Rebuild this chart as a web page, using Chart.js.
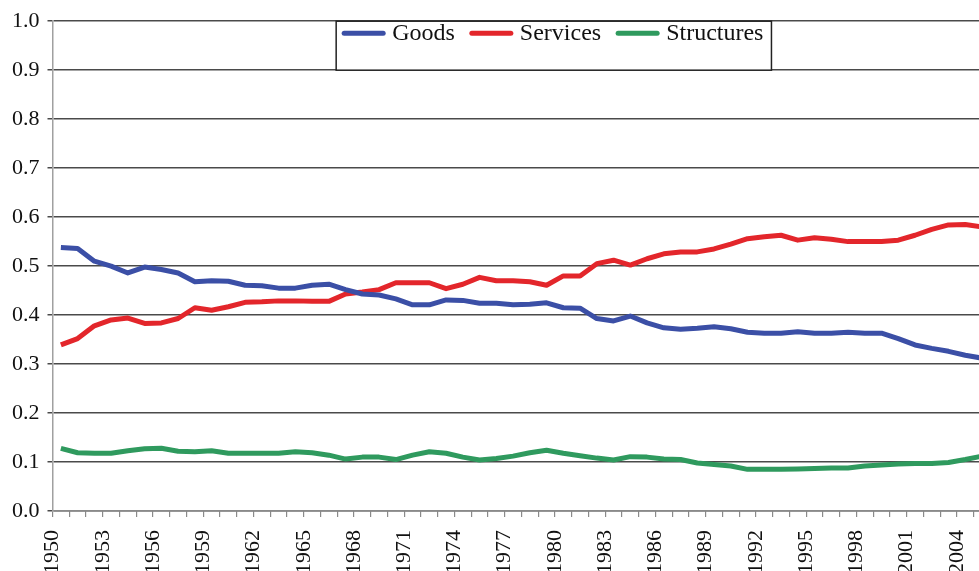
<!DOCTYPE html>
<html>
<head>
<meta charset="utf-8">
<script src="https://cdn.jsdelivr.net/npm/chart.js@4.4.0/dist/chart.umd.min.js"></script>
<style>
  html, body { margin: 0; padding: 0; background: #fff; overflow: hidden; }
  /* a bit taller than the window so the year labels run off the bottom edge */
  #wrap { width: 979px; height: 587px; position: relative; }
</style>
</head>
<body>
<div id="wrap"><canvas id="share_chart"></canvas></div>
<script>
const years = [
  1950, 1951, 1952, 1953, 1954, 1955, 1956, 1957, 1958, 1959,
  1960, 1961, 1962, 1963, 1964, 1965, 1966, 1967, 1968, 1969,
  1970, 1971, 1972, 1973, 1974, 1975, 1976, 1977, 1978, 1979,
  1980, 1981, 1982, 1983, 1984, 1985, 1986, 1987, 1988, 1989,
  1990, 1991, 1992, 1993, 1994, 1995, 1996, 1997, 1998, 1999,
  2000, 2001, 2002, 2003, 2004, 2005,
];

const goods = [
  0.538, 0.536, 0.510, 0.500, 0.486, 0.498, 0.493, 0.486, 0.468, 0.470,
  0.469, 0.461, 0.460, 0.455, 0.455, 0.461, 0.463, 0.452, 0.443, 0.441,
  0.433, 0.421, 0.421, 0.431, 0.430, 0.424, 0.424, 0.421, 0.422, 0.425,
  0.415, 0.414, 0.393, 0.388, 0.398, 0.384, 0.374, 0.371, 0.373, 0.376,
  0.372, 0.365, 0.363, 0.363, 0.366, 0.363, 0.363, 0.365, 0.363, 0.363,
  0.352, 0.339, 0.332, 0.326, 0.318, 0.312,
];

const services = [
  0.339, 0.352, 0.378, 0.390, 0.394, 0.383, 0.384, 0.393, 0.415, 0.410,
  0.417, 0.426, 0.427, 0.429, 0.429, 0.428, 0.428, 0.443, 0.447, 0.452,
  0.466, 0.466, 0.466, 0.454, 0.463, 0.477, 0.470, 0.470, 0.468, 0.461,
  0.480, 0.480, 0.505, 0.512, 0.502, 0.515, 0.525, 0.529, 0.529, 0.535,
  0.545, 0.556, 0.560, 0.563, 0.553, 0.558, 0.555, 0.550, 0.550, 0.550,
  0.553, 0.563, 0.575, 0.584, 0.585, 0.580,
];

const structures = [
  0.128, 0.119, 0.118, 0.118, 0.123, 0.127, 0.128, 0.122, 0.121, 0.123,
  0.118, 0.118, 0.118, 0.118, 0.121, 0.119, 0.114, 0.106, 0.110, 0.110,
  0.105, 0.114, 0.121, 0.118, 0.110, 0.104, 0.107, 0.112, 0.119, 0.124,
  0.118, 0.113, 0.108, 0.104, 0.111, 0.110, 0.106, 0.105, 0.098, 0.095,
  0.092, 0.085, 0.085, 0.085, 0.086, 0.087, 0.088, 0.088, 0.092, 0.094,
  0.096, 0.097, 0.097, 0.099, 0.105, 0.112,
];

const series_names = ["Goods", "Services", "Structures"];
const series_colors = ["#3b4fa6", "#e3262b", "#2f9a5e"];

const FONT = '"Liberation Serif", "Times New Roman", serif';

// each value sits in the middle of its year, between the tick marks
function to_points(values) {
  return years.map((yr, i) => ({ x: yr + 0.5, y: values[i] }));
}

// boxed legend drawn over the top of the plot
const legend_box = {
  id: "legend_box",
  afterDraw(chart) {
    const ctx = chart.ctx;
    const area = chart.chartArea;
    const sample = 43, gap = 7, spacing = 15;
    ctx.save();
    ctx.font = "24px " + FONT;
    const widths = chart.data.datasets.map(
      (d) => sample + gap + ctx.measureText(d.label).width
    );
    const total = widths.reduce((a, b) => a + b, 0) + spacing * (widths.length - 1);
    const center = area.left + (area.right - area.left) * 0.54;
    const start = center - total / 2;
    const top = area.top;
    const bottom = chart.scales.y.getPixelForValue(0.9);

    ctx.fillStyle = "#fff";
    ctx.fillRect(start - 6, top, total + 14, bottom - top);
    ctx.strokeStyle = "#222";
    ctx.lineWidth = 1.5;
    ctx.strokeRect(start - 6, top, total + 14, bottom - top);

    let x = start;
    const y = top + 12;
    chart.data.datasets.forEach((d, i) => {
      ctx.strokeStyle = d.borderColor;
      ctx.lineWidth = 5;
      ctx.lineCap = "round";
      ctx.beginPath();
      ctx.moveTo(x + 2, y);
      ctx.lineTo(x + sample - 2, y);
      ctx.stroke();
      ctx.fillStyle = "#111";
      ctx.textBaseline = "middle";
      ctx.textAlign = "left";
      ctx.fillText(d.label, x + sample + gap, y + 1);
      x += widths[i] + spacing;
    });
    ctx.restore();
  },
};

const share_ctx = document.getElementById("share_chart");

const share_config = {
  type: "line",
  data: {
    datasets: [goods, services, structures].map((vals, i) => ({
      label: series_names[i],
      data: to_points(vals),
      borderColor: series_colors[i],
      backgroundColor: series_colors[i],
      borderWidth: 5,
      pointRadius: 0,
      tension: 0,
      borderJoinStyle: "round",
    })),
  },
  options: {
    responsive: true,
    maintainAspectRatio: false,
    animation: false,
    layout: { padding: { left: 4, top: 8, right: 0, bottom: 0 } },
    plugins: {
      legend: { display: false },
      tooltip: { enabled: false },
    },
    scales: {
      x: {
        type: "linear",
        min: 1950,
        max: 2005.32,
        // plot runs right to the edge, no room kept for the last label
        afterFit: (scale) => {
          scale.paddingRight = 0;
          scale.paddingLeft = 0;
        },
        ticks: {
          stepSize: 1,
          autoSkip: false,
          includeBounds: false,
          minRotation: 90,
          maxRotation: 90,
          padding: 13,
          color: "#111",
          font: { family: FONT, size: 22 },
          callback: (v) => ((v - 1950) % 3 === 0 ? String(v) : ""),
        },
        grid: { drawOnChartArea: false, tickLength: 6, color: "#8a8a8a", lineWidth: 1.2 },
        border: { color: "#8a8a8a", width: 1.5 },
      },
      y: {
        min: 0,
        max: 1,
        ticks: {
          stepSize: 0.1,
          padding: 8,
          color: "#111",
          font: { family: FONT, size: 22 },
          callback: (v) => v.toFixed(1),
        },
        grid: { color: "#4a4a4a", lineWidth: 1.5, tickLength: 5 },
        border: { color: "#a0a0a0", width: 1.5 },
      },
    },
  },
  plugins: [legend_box],
};

const share_chart = new Chart(share_ctx, share_config);
</script>
</body>
</html>
